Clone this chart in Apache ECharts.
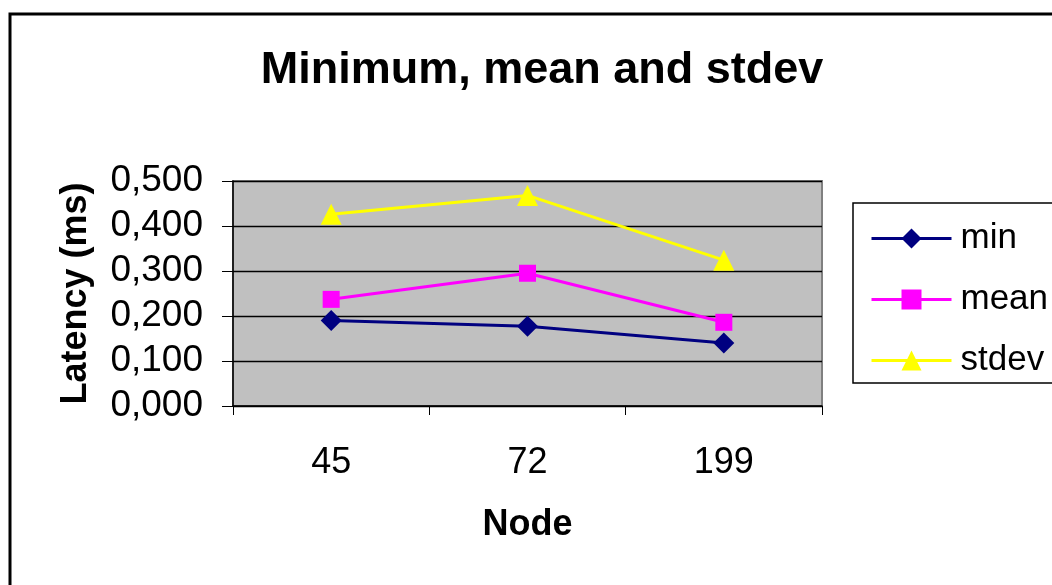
<!DOCTYPE html>
<html>
<head>
<meta charset="utf-8">
<script src="https://cdn.jsdelivr.net/npm/echarts@6/dist/echarts.min.js"></script>
<style>
  html, body { margin: 0; padding: 0; background: #ffffff; }
  #chart { width: 1052px; height: 585px; }
</style>
</head>
<body>
<div id="chart"></div>
<script>
// Node identifiers on the category axis
const nodes = ['45', '72', '199'];
// Latency statistics per node (ms)
const minLatency = [0.190, 0.177, 0.140];
const meanLatency = [0.237, 0.295, 0.186];
const stdevLatency = [0.426, 0.468, 0.324];

const FONT = '"Liberation Sans", Arial, sans-serif';

const chart = echarts.init(document.getElementById('chart'), null, { renderer: 'canvas' });

function lineSeries(name, data, color, symbol, size) {
  return {
    name: name,
    type: 'line',
    data: data,
    symbol: symbol,
    symbolSize: size,
    showAllSymbol: true,
    lineStyle: { color: color, width: 3 },
    itemStyle: { color: color, borderWidth: 0 },
    emphasis: { disabled: true },
    z: 3
  };
}

chart.setOption({
  animation: false,
  backgroundColor: '#ffffff',
  title: {
    text: 'Minimum, mean and stdev',
    left: 537,
    textAlign: 'center',
    top: 43,
    textStyle: { fontFamily: FONT, fontSize: 45, fontWeight: 'bold', color: '#000' }
  },
  graphic: [
    {
      type: 'rect',
      shape: { x: 10, y: 14, width: 1200, height: 800 },
      style: { fill: 'none', stroke: '#000', lineWidth: 3 },
      z: 0
    },
    {
      type: 'rect',
      shape: { x: 853, y: 203, width: 300, height: 180 },
      style: { fill: '#fff', stroke: '#000', lineWidth: 1.5 },
      z: 1
    }
  ],
  legend: {
    orient: 'vertical',
    left: 865,
    top: 216,
    itemWidth: 80,
    itemHeight: 25,
    itemGap: 26,
    z: 5,
    lineStyle: { width: 3 },
    textStyle: { fontFamily: FONT, fontSize: 35, color: '#000', padding: [0, 0, 0, 4] },
    data: ['min', 'mean', 'stdev']
  },
  grid: {
    left: 233,
    right: 230,
    top: 181,
    bottom: 179,
    show: true,
    backgroundColor: '#C0C0C0',
    borderColor: '#808080',
    borderWidth: 2
  },
  xAxis: {
    type: 'category',
    data: nodes,
    boundaryGap: true,
    name: 'Node',
    nameLocation: 'middle',
    nameGap: 101,
    nameTextStyle: { fontFamily: FONT, fontSize: 36, fontWeight: 'bold', color: '#000' },
    axisLine: { lineStyle: { color: '#000', width: 1.5 } },
    axisTick: { show: true, length: 9, lineStyle: { color: '#000', width: 1 } },
    axisLabel: { fontFamily: FONT, fontSize: 36, color: '#000', margin: 39 },
    splitLine: { show: false }
  },
  yAxis: {
    type: 'value',
    min: 0,
    max: 0.5,
    interval: 0.1,
    name: 'Latency (ms)',
    nameLocation: 'middle',
    nameRotate: 90,
    nameGap: 139,
    nameTextStyle: { fontFamily: FONT, fontSize: 36, fontWeight: 'bold', color: '#000' },
    axisLine: { show: true, lineStyle: { color: '#000', width: 1.5 } },
    axisTick: { show: true, length: 11, lineStyle: { color: '#000', width: 1 } },
    axisLabel: {
      fontFamily: FONT, fontSize: 37, color: '#000', margin: 30,
      formatter: v => v.toFixed(3).replace('.', ',')
    },
    splitLine: { show: true, lineStyle: { color: '#000', width: 1.3 } }
  },
  series: [
    lineSeries('min', minLatency, '#000080', 'diamond', 21),
    lineSeries('mean', meanLatency, '#FF00FF', 'rect', 17),
    lineSeries('stdev', stdevLatency, '#FFFF00', 'triangle', 21)
  ]
});
</script>
</body>
</html>
